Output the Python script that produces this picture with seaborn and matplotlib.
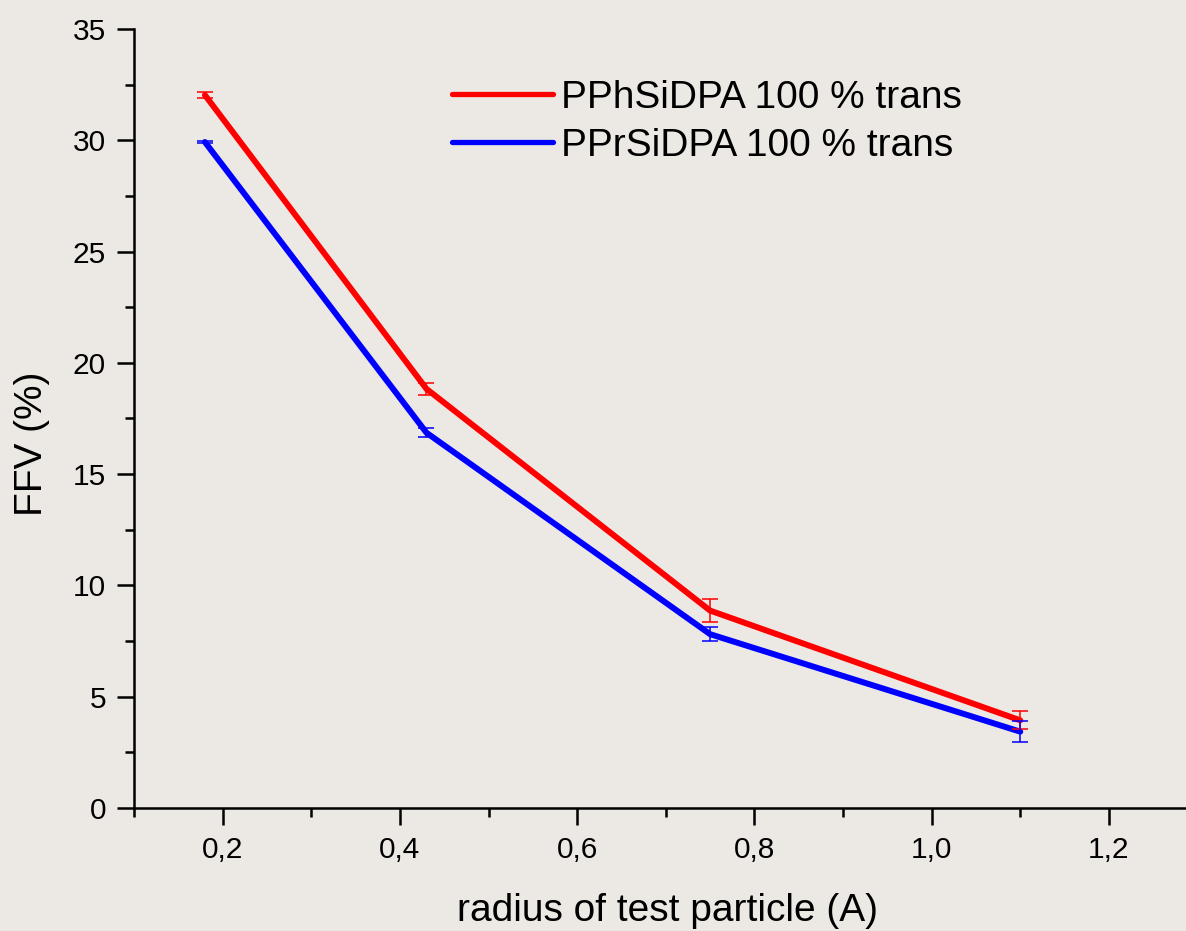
import matplotlib
matplotlib.use("Agg")
import matplotlib.pyplot as plt
import seaborn as sns
import pandas as pd
from matplotlib.ticker import MultipleLocator, FuncFormatter

radius = [0.18, 0.43, 0.75, 1.10]
ffv_ph = [32.03, 18.83, 8.87, 3.94]
err_ph = [0.12, 0.28, 0.52, 0.40]
ffv_pr = [29.92, 16.86, 7.81, 3.43]
err_pr = [0.06, 0.21, 0.32, 0.47]
series = ["PPhSiDPA 100 % trans", "PPrSiDPA 100 % trans"]
colors = ["#FF0000", "#0000FF"]

df = pd.DataFrame({
    "radius": radius * 2,
    "ffv": ffv_ph + ffv_pr,
    "err": err_ph + err_pr,
    "series": [series[0]] * 4 + [series[1]] * 4,
})

sns.set_theme(style="ticks")
bg = "#ECE8E4"
plt.rcParams["font.family"] = ["Liberation Sans", "DejaVu Sans"]
plt.rcParams["text.color"] = "black"
plt.rcParams["axes.labelcolor"] = "black"

fig = plt.figure(figsize=(11.86, 9.31), dpi=100, facecolor=bg)
ax = fig.add_axes([0.113, 0.1321, 0.887, 0.8368])
ax.set_facecolor(bg)

sns.lineplot(data=df, x="radius", y="ffv", hue="series", palette=colors,
             hue_order=series, linewidth=4.3, ax=ax, legend=True)
for s, c in zip(series, colors):
    sub = df[df["series"] == s]
    ax.errorbar(sub["radius"], sub["ffv"], yerr=sub["err"], fmt="none",
                ecolor=c, elinewidth=1.1, capsize=5.8, capthick=1.1, zorder=3)

ax.set_xlim(0.1, 1.287)
ax.set_ylim(0, 35)
ax.xaxis.set_major_locator(MultipleLocator(0.2))
ax.xaxis.set_minor_locator(MultipleLocator(0.1))
ax.yaxis.set_major_locator(MultipleLocator(5))
ax.yaxis.set_minor_locator(MultipleLocator(2.5))
ax.xaxis.set_major_formatter(FuncFormatter(lambda v, p: f"{v:.1f}".replace(".", ",")))
ax.yaxis.set_major_formatter(FuncFormatter(lambda v, p: f"{v:.0f}"))

for sp in ["top", "right"]:
    ax.spines[sp].set_visible(False)
for sp in ["left", "bottom"]:
    ax.spines[sp].set_linewidth(1.8)
    ax.spines[sp].set_color("black")

ax.tick_params(which="major", direction="out", length=12.2, width=1.8, labelsize=21.5,
               colors="black", pad=8)
ax.tick_params(which="minor", direction="out", length=6.2, width=1.8, colors="black")

ax.set_xlabel("radius of test particle (A)", fontsize=28)
ax.xaxis.set_label_coords(0.507, -0.109, transform=ax.transAxes)
ax.xaxis.label.set_va("top")
ax.set_ylabel("FFV (%)", fontsize=28)
ax.yaxis.set_label_coords(-0.080, 0.468)

handles, labels = ax.get_legend_handles_labels()
leg = ax.legend(handles, labels, loc="upper left", bbox_to_anchor=(0.276, 0.970),
                frameon=False, fontsize=28, handlelength=2.6, handletextpad=0.22,
                labelspacing=0.32, borderpad=0.2)
for h in leg.get_lines():
    h.set_linewidth(3.8)

fig.savefig("out.png", dpi=100, facecolor=bg)
